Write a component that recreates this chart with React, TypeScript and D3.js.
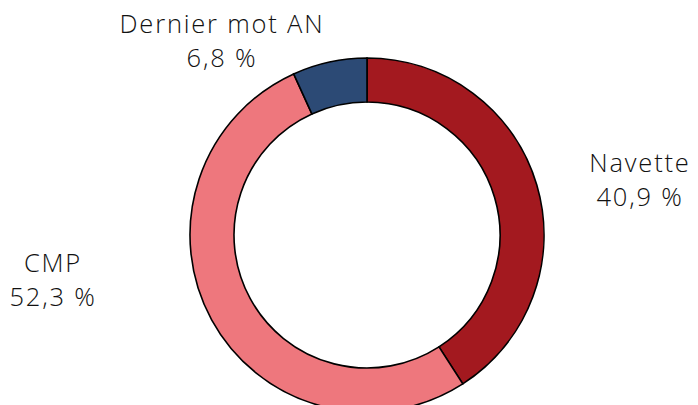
import React from "react";
import * as d3 from "d3";

const categories = ["Navette", "CMP", "Dernier mot AN"];
const values = [40.9, 52.3, 6.8];
const valueLabels = ["40,9 %", "52,3 %", "6,8 %"];
const colors = ["#A3191F", "#EE777D", "#2C4A75"];

const W = 698, H = 405;
const cx = 367, cy = 235, outerR = 177, innerR = 133;

const labelPos = [
  { x: 640, y: 172 },
  { x: 53, y: 272 },
  { x: 222, y: 33 },
];

export default function App() {
  const pie = d3.pie<number>().sort(null).value((d) => d)(values);
  const arc = d3.arc<d3.PieArcDatum<number>>().innerRadius(innerR).outerRadius(outerR);
  return (
    <svg width={W} height={H} style={{ position: "absolute", left: 0, top: 0, background: "#fff" }}>
      <g transform={`translate(${cx},${cy})`}>
        {pie.map((p, i) => (
          <path key={i} d={arc(p) || ""} fill={colors[i]} stroke="#000" strokeWidth={1.6} />
        ))}
      </g>
      {categories.map((c, i) => (
        <text key={c} textAnchor="middle" fontFamily="'Open Sans', Lato, sans-serif" fontWeight={300} fontSize={25.5} letterSpacing={1.8} fill="#111">
          <tspan x={labelPos[i].x} y={labelPos[i].y}>{c}</tspan>
          <tspan x={labelPos[i].x} y={labelPos[i].y + 34}>{valueLabels[i]}</tspan>
        </text>
      ))}
    </svg>
  );
}
